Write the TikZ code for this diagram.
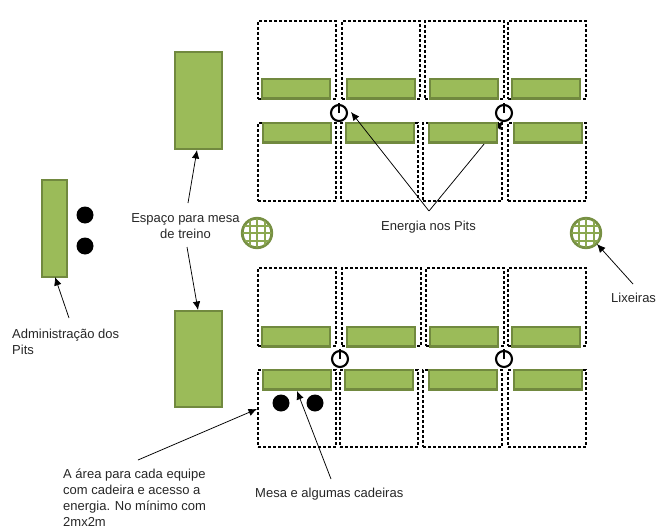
\documentclass[tikz,border=0pt]{standalone}
\usepackage{fontspec}
\setmainfont{Liberation Sans}
\usetikzlibrary{arrows.meta}
\definecolor{gfill}{HTML}{9BBB59}
\definecolor{gline}{HTML}{71893F}
\tikzset{
  pit/.style={draw=black,line width=2.8pt,dash pattern=on 2.6pt off 2.4pt,line cap=butt,fill=none,inner sep=0pt,outer sep=0pt,anchor=north west},
  bar/.style={draw=gline,line width=2.2pt,fill=gfill,inner sep=0pt,anchor=north west},
  hbar/.style={bar,minimum width=67.8pt,minimum height=19.3pt},
  dot/.style={circle,fill=black,minimum size=17pt,inner sep=0pt},
  lab/.style={font=\fontsize{13}{16}\selectfont,text=black!85,inner sep=0pt,align=left},
  arr/.style={-{Latex[length=8.5pt,width=7.5pt]},line width=0.75pt,black},
  pw/.style={circle,draw=black,line width=2.1pt,minimum size=16pt,inner sep=0pt},
}
\newcommand{\powericon}[3]{%
  \node[pw] (#1) at (#2,#3) {};
  \draw[line width=2pt] (#1.center) -- ++(0,-10);
}
\newcommand{\binicon}[3]{%
  \node[circle,draw=gline!85!gfill,line width=2.8pt,fill=white,minimum size=29.5pt,inner sep=0pt] (#1) at (#2,#3) {};
  \begin{scope}
    \clip (#2,#3) circle (14.5pt);
    \foreach \d in {-7.5,0,7.5}{
      \draw[gfill!90!black,line width=2pt] (#2+\d,#3-15) -- (#2+\d,#3+15);
      \draw[gfill!90!black,line width=2pt] (#2-15,#3+\d) -- (#2+15,#3+\d);
    }
  \end{scope}
}
\begin{document}
\begin{tikzpicture}[x=1pt,y=-1pt]
\useasboundingbox (0,0) rectangle (659,530);
% pit areas
\foreach \n/\x/\y/\w/\h in {a1/258/21/78/78,a2/342/21/78/78,a3/425/21/79/78,a4/508/21/78/78,
  b1/258/123/78/78,b2/341/123/77/78,b3/423/123/79/78,b4/508/123/78/78,
  c1/258/268/78/78,c2/342/268/79/78,c3/426/268/78/78,c4/508/268/78/78,
  d1/258/370/78/77,d2/340/370/78/77,d3/423/370/79/77,d4/508/370/78/77}{
  \node[pit,minimum width=\w pt,minimum height=\h pt] (\n) at (\x,\y) {};
}
\coordinate (eA) at (429,211);
\coordinate (eC) at (503,121);
% this connector runs under the table it crosses
\draw[arr] (eA) -- (eC);
% tables
\foreach \n/\x/\y in {ta1/261/78,ta2/346/78,ta3/429/78,ta4/511/78,
  tb1/262/122,tb2/345/122,tb3/428/122,tb4/513/122,
  tc1/261/326,tc2/346/326,tc3/429/326,tc4/511/326,
  td1/262/369,td2/344/369,td3/428/369,td4/513/369}{
  \node[hbar] (\n) at (\x,\y) {};
}
\node[bar,minimum width=47pt,minimum height=97pt] (mesaA) at (174,51) {};
\node[bar,minimum width=47pt,minimum height=96pt] (mesaB) at (174,310) {};
\node[bar,minimum width=24.8pt,minimum height=96.8pt] (admin) at (41,179) {};
% chairs
\node[dot] (s1) at (85,215) {};
\node[dot] (s2) at (85,246) {};
\node[dot] (s3) at (281,403) {};
\node[dot] (s4) at (315,403) {};
% power
\powericon{p1}{339}{113}
\powericon{p2}{504}{113}
\powericon{p3}{340}{359}
\powericon{p4}{504}{359}
% bins
\binicon{l1}{257}{233}
\binicon{l2}{586}{233}
% labels
\node[lab,anchor=base west] (tadmin) at (12,338) {Administração dos};
\node[lab,anchor=base west] (tadmin2) at (12,354) {Pits};
\node[lab,anchor=base] (tespaco) at (185.5,222) {Espaço para mesa};
\node[lab,anchor=base] (tespaco2) at (185.5,238) {de treino};
\node[lab,anchor=base west] (tenergia) at (381,230) {Energia nos Pits};
\node[lab,anchor=base west] (tlix) at (611,302) {Lixeiras};
\node[lab,anchor=base west] (tarea) at (63,478) {A área para cada equipe};
\node[lab,anchor=base west] (tarea2) at (63,494) {com cadeira e acesso a};
\node[lab,anchor=base west] (tarea3) at (63,510) {energia. No mínimo com};
\node[lab,anchor=base west] (tarea4) at (63,526) {2mx2m};
\node[lab,anchor=base west] (tmesa) at (255,497) {Mesa e algumas cadeiras};
% connector ends
\coordinate (eB) at (351,112);
\coordinate (fA) at (188,203);
\coordinate (fB) at (197,150);
\coordinate (fC) at (187,247);
\coordinate (fD) at (198,310);
\coordinate (gA) at (69,318);
\coordinate (gB) at (55,277);
\coordinate (hA) at (633,284);
\coordinate (hB) at (597,244);
\coordinate (iA) at (138,460);
\coordinate (iB) at (257,409);
\coordinate (jA) at (331,479);
\coordinate (jB) at (297,391);
\draw[arr] (eA) -- (eB);
\draw[arr] (fA) -- (fB);
\draw[arr] (fC) -- (fD);
\draw[arr] (gA) -- (gB);
\draw[arr] (hA) -- (hB);
\draw[arr] (iA) -- (iB);
\draw[arr] (jA) -- (jB);
\end{tikzpicture}
\end{document}
